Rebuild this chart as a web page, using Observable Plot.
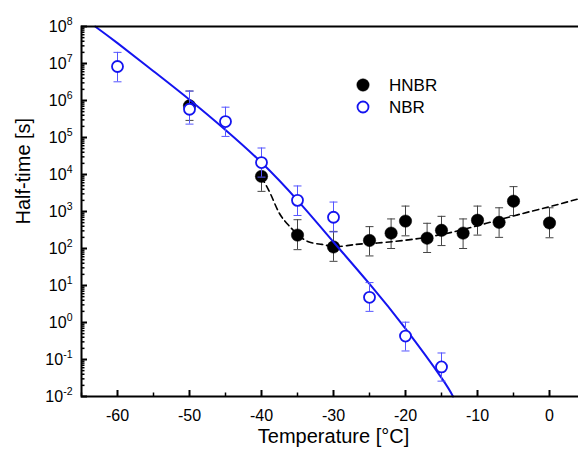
<!DOCTYPE html>
<html><head><meta charset="utf-8">
<script src="https://cdn.jsdelivr.net/npm/d3@7"></script>
<script src="https://cdn.jsdelivr.net/npm/@observablehq/plot@0.6"></script>
<style>
html,body{margin:0;padding:0;overflow:hidden;background:#fff;}
#wrap{position:relative;width:578px;height:456px;overflow:hidden;font-family:"Liberation Sans",Arial,sans-serif;}
#chart{position:absolute;left:0;top:0;width:585px;}
#chart svg{max-width:none !important;}
#legend{position:absolute;left:350px;top:72px;}
</style></head><body>
<div id="wrap"><div id="chart"></div><svg id="legend" width="120" height="50"></svg></div>
<script>
// HNBR (filled black) measurements
const hnbrT  = [-50, -40, -35, -30, -25, -22, -20, -17, -15, -12, -10, -7, -5, 0];
const hnbrV  = [7.2e5, 8.9e3, 230, 110, 165, 260, 550, 190, 310, 260, 580, 510, 1900, 490];
const hnbrLo = [2.9e5, 3.5e3, 93, 45, 63, 100, 220, 78, 120, 100, 230, 200, 780, 195];
const hnbrHi = [1.8e6, 2.1e4, 600, 290, 390, 630, 1400, 480, 740, 630, 1400, 1260, 4700, 1260];

// NBR (open blue) measurements
const nbrT  = [-60, -50, -45, -40, -35, -30, -25, -20, -15];
const nbrV  = [8.3e6, 5.8e5, 2.7e5, 2.1e4, 2.0e3, 700, 4.8, 0.43, 0.063];
const nbrLo = [3.2e6, 2.3e5, 1.07e5, 8.5e3, 780, 280, 2.0, 0.17, 0.026];
const nbrHi = [2.0e7, 1.8e6, 6.6e5, 5.2e4, 4.9e3, 1800, 12, 1.02, 0.15];

// NBR fit curve (blue solid)
const nbrFitT = [-63.1, -60, -55, -50, -45, -40, -35, -30, -25, -20, -15, -13.4];
const nbrFitV = [1e8, 3.55e7, 6.2e6, 1.05e6, 1.6e5, 2.1e4, 2.0e3, 150, 11, 0.68, 0.032, 0.01];

// HNBR fit curve (black dashed)
const hnbrFitT = [-40, -38.75, -37.6, -36.2, -33.9, -31.6, -29.7, -26.9, -23.9, -17.9, -11.9, -5, 0, 4];
const hnbrFitV = [8500, 3000, 955, 417, 166, 129, 112, 129, 141, 190, 330, 760, 1350, 2190];

// axis ticks and titles
const xTicks = [-60, -50, -40, -30, -20, -10, 0];
const xMinor = [-65, -55, -45, -35, -25, -15, -5, 5];
const yExp = [-2, -1, 0, 1, 2, 3, 4, 5, 6, 7, 8];
const xTitle = "Temperature [°C]";
const yTitle = "Half-time [s]";
const seriesNames = ["HNBR", "NBR"];

const yTicks = yExp.map(e => Math.pow(10, e));
const yMinor = [];
for (let e = -2; e < 8; e++) for (let m = 2; m <= 9; m++) yMinor.push(m * Math.pow(10, e));

const hnbr = hnbrT.map((t, i) => ({t, v: hnbrV[i], lo: hnbrLo[i], hi: hnbrHi[i]}));
const nbr = nbrT.map((t, i) => ({t, v: nbrV[i], lo: nbrLo[i], hi: nbrHi[i]}));
const nbrFit = nbrFitT.map((t, i) => ({t, v: nbrFitV[i]}));
const hnbrFit = hnbrFitT.map((t, i) => ({t, v: hnbrFitV[i]}));

const W = 585, H = 456, ML = 81, MR = 0, MT = 26, MB = 60;
const PW = W - ML - MR, PH = H - MT - MB;
const BLUE = "#1414f0";
const FONT = '"Liberation Sans", Arial, sans-serif';

const cap = {draw(ctx) { ctx.moveTo(-4, 0); ctx.lineTo(4, 0); }};

const chart = Plot.plot({
  width: W, height: H,
  marginLeft: ML, marginRight: MR, marginTop: MT, marginBottom: MB,
  style: {fontFamily: FONT, background: "white", maxWidth: "none"},
  x: {domain: [-65, 5]},
  y: {type: "log", domain: [1e-2, 1e8]},
  marks: [
    // ticks (inward)
    Plot.tickY(yTicks, {y: d => d, insetRight: PW - 6, stroke: "black", strokeWidth: 2}),
    Plot.tickY(yMinor, {y: d => d, insetRight: PW - 3.5, stroke: "black", strokeWidth: 1.5}),
    Plot.tickX(xTicks, {x: d => d, insetTop: PH - 6, stroke: "black", strokeWidth: 2}),
    Plot.tickX(xMinor, {x: d => d, insetTop: PH - 3.5, stroke: "black", strokeWidth: 1.5}),
    Plot.axisX({ticks: xTicks, tickSize: 0, tickPadding: 13, fontSize: 16, tickFormat: d => String(d), label: null}),
    Plot.axisY({ticks: yTicks, tickSize: 0, tickPadding: 9, fontSize: 16,
      tickFormat: d => "10^" + Math.round(Math.log10(d)), label: null}),
    Plot.text([xTitle], {frameAnchor: "bottom", text: d => d, dy: 46, fontSize: 20, fill: "black"}),
    Plot.text([yTitle], {frameAnchor: "left", text: d => d, rotate: -90, dx: -58, dy: 13, fontSize: 20, fill: "black"}),
    // HNBR
    Plot.ruleX(hnbr, {x: "t", y1: "lo", y2: "hi", stroke: "#444", strokeWidth: 1}),
    Plot.dot(hnbr, {x: "t", y: "lo", symbol: cap, stroke: "#444", strokeWidth: 1}),
    Plot.dot(hnbr, {x: "t", y: "hi", symbol: cap, stroke: "#444", strokeWidth: 1}),
    Plot.dot(hnbr, {x: "t", y: "v", r: 6.2, fill: "black", stroke: "black", strokeWidth: 0.5}),
    Plot.line(hnbrFit, {x: "t", y: "v", curve: "natural", stroke: "black", strokeWidth: 1.6, strokeDasharray: "6,4"}),
    Plot.line(nbrFit, {x: "t", y: "v", curve: "natural", stroke: BLUE, strokeWidth: 2}),
    // NBR
    Plot.ruleX(nbr, {x: "t", y1: "lo", y2: "hi", stroke: "#5555ff", strokeWidth: 1}),
    Plot.dot(nbr, {x: "t", y: "lo", symbol: cap, stroke: "#5555ff", strokeWidth: 1}),
    Plot.dot(nbr, {x: "t", y: "hi", symbol: cap, stroke: "#5555ff", strokeWidth: 1}),
    Plot.dot(nbr, {x: "t", y: "v", r: 5.5, fill: "white", stroke: BLUE, strokeWidth: 1.8}),
    Plot.frame({stroke: "black", strokeWidth: 2})
  ]
});

// superscript exponents on y tick labels
chart.querySelectorAll('g[aria-label="y-axis tick label"] text').forEach(t => {
  const s = t.textContent;
  const e = s.split("^")[1];
  t.textContent = "";
  const a = document.createElementNS("http://www.w3.org/2000/svg", "tspan");
  a.textContent = "10";
  const b = document.createElementNS("http://www.w3.org/2000/svg", "tspan");
  b.textContent = e;
  b.setAttribute("dy", "-7");
  b.setAttribute("font-size", "10.5");
  t.appendChild(a); t.appendChild(b);
});
chart.style.maxWidth = "none";
document.getElementById("chart").appendChild(chart);

// legend
const lg = d3.select("#legend");
const items = [{fill: "black", stroke: "black", sw: 0.5, r: 6.2},
               {fill: "white", stroke: BLUE, sw: 1.8, r: 5.5}];
items.forEach((it, i) => {
  lg.append("circle").attr("cx", 13).attr("cy", 13 + i * 22).attr("r", it.r)
    .attr("fill", it.fill).attr("stroke", it.stroke).attr("stroke-width", it.sw);
  lg.append("text").attr("x", 39).attr("y", 13 + i * 22).attr("dy", "0.36em")
    .attr("font-family", FONT).attr("font-size", 17)
    .attr("fill", "black").text(seriesNames[i]);
});
</script>
</body></html>
